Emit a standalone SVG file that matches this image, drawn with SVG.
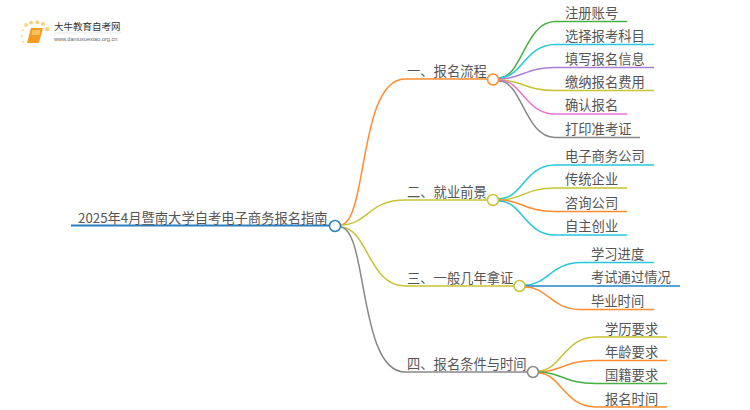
<svg xmlns="http://www.w3.org/2000/svg" width="750" height="410" viewBox="0 0 750 410">
<style>
.c{fill:none;stroke-width:1.500}
.r{stroke-width:2}
.t{font-family:"Noto Sans CJK SC","Noto Sans",sans-serif;font-size:13.300px;fill:#555}
.n{fill:#fff;stroke-width:1.500}
</style>
<rect width="750" height="410" fill="#fff"/>
<g id="logo">
<circle cx="22.700" cy="30" r="1.300" fill="#fbe3a8"/><circle cx="21.700" cy="36" r="1.300" fill="#fbe3a8"/><circle cx="23" cy="41.700" r="1.300" fill="#fbe3a8"/>
<circle cx="26" cy="25" r="2" fill="#fcd98a"/><circle cx="31" cy="22.700" r="2" fill="#fcd078"/><circle cx="37.300" cy="22.300" r="2" fill="#fcd078"/><circle cx="43" cy="24" r="2" fill="#fcd078"/><circle cx="47.300" cy="29" r="2.300" fill="#fcd078"/>
<path d="M31 28h12l-3.500 13-1 2h-11.500z" fill="#f59a23"/><path d="M32.500 30h8l-1 5h-8z" fill="#fbc25c"/>
<text x="54" y="30" font-family="'Noto Sans CJK SC',sans-serif" font-size="9.500" fill="#333">大牛教育自考网</text>
<path d="M54 33h68" stroke="#ddd" stroke-width=".7"/>
<text x="54" y="41" font-family="'Liberation Sans',sans-serif" font-size="5.600" fill="#666">www.daniuxuexiao.org.cn</text>
</g>
<g id="connectors">
<path class="c r" stroke="#2b7fc1" d="M71 225.500H329"/>
<path class="c" stroke="#ff8c2e" d="M340 225C368 225 358 79 405 79H487"/>
<path class="c" stroke="#c6c433" d="M340 225C368 225 368 200 405 200H487"/>
<path class="c" stroke="#c6c433" d="M340 227C368 227 368 286 405 286H514"/>
<path class="c" stroke="#888" d="M340 227C368 227 358 372 405 372H527"/>
<path class="c" stroke="#46b045" d="M499 78C522 78 525 21.500 555 21.500H627"/>
<path class="c" stroke="#25c8dc" d="M499 78C522 78 525 44.500 555 44.500H654"/>
<path class="c" stroke="#a97fd6" d="M499 79C522 79 525 67.500 555 67.500H654"/>
<path class="c" stroke="#c6c433" d="M499 80C522 80 525 90.500 555 90.500H654"/>
<path class="c" stroke="#ee74cf" d="M499 80C522 80 525 114 555 114H627"/>
<path class="c" stroke="#888" d="M499 81C522 81 525 137.500 555 137.500H640"/>
<path class="c" stroke="#25c8dc" d="M499 199C522 199 525 165 555 165H654"/>
<path class="c" stroke="#c6c433" d="M499 200C522 200 525 188 555 188H627"/>
<path class="c" stroke="#ff8c2e" d="M499 200C522 200 525 211.500 555 211.500H627"/>
<path class="c" stroke="#25c8dc" d="M499 201C522 201 525 235 555 235H627"/>
<path class="c" stroke="#25c8dc" d="M525 285C548 285 551 262.500 581 262.500H654"/>
<path class="c" stroke="#1a85c8" d="M525 286H680"/>
<path class="c" stroke="#ff8c2e" d="M525 287C548 287 551 309.500 581 309.500H654"/>
<path class="c" stroke="#c6c433" d="M538 371C561 371 564 337 596 337H667"/>
<path class="c" stroke="#ff8c2e" d="M538 372C561 372 564 360.500 596 360.500H667"/>
<path class="c" stroke="#46b045" d="M538 372C561 372 564 383.500 596 383.500H667"/>
<path class="c" stroke="#ff8c2e" d="M538 373C561 373 564 407 596 407H667"/>
</g>
<g id="root"><text class="t" x="78" y="223">2025年4月暨南大学自考电子商务报名指南</text><circle class="n" stroke="#2b7fc1" cx="335" cy="226" r="5.500"/></g>
<g id="b1"><text class="t" x="407" y="76">一、报名流程</text><circle class="n" stroke="#ff8c2e" cx="493" cy="79.500" r="5.500"/></g>
<g id="b2"><text class="t" x="407" y="197">二、就业前景</text><circle class="n" stroke="#c6c433" cx="493" cy="200" r="5.500"/></g>
<g id="b3"><text class="t" x="407" y="283">三、一般几年拿证</text><circle class="n" stroke="#c6c433" cx="519.500" cy="286" r="5.500"/></g>
<g id="b4"><text class="t" x="407" y="369">四、报名条件与时间</text><circle class="n" stroke="#888" cx="533" cy="372" r="5.500"/></g>
<g id="l1"><text class="t" x="565" y="18">注册账号</text></g>
<g id="l2"><text class="t" x="565" y="41">选择报考科目</text></g>
<g id="l3"><text class="t" x="565" y="64">填写报名信息</text></g>
<g id="l4"><text class="t" x="565" y="87">缴纳报名费用</text></g>
<g id="l5"><text class="t" x="565" y="110">确认报名</text></g>
<g id="l6"><text class="t" x="565" y="134">打印准考证</text></g>
<g id="l7"><text class="t" x="565" y="161">电子商务公司</text></g>
<g id="l8"><text class="t" x="565" y="184">传统企业</text></g>
<g id="l9"><text class="t" x="565" y="208">咨询公司</text></g>
<g id="l10"><text class="t" x="565" y="231">自主创业</text></g>
<g id="l11"><text class="t" x="591" y="259">学习进度</text></g>
<g id="l12"><text class="t" x="591" y="282">考试通过情况</text></g>
<g id="l13"><text class="t" x="591" y="306">毕业时间</text></g>
<g id="l14"><text class="t" x="605" y="334">学历要求</text></g>
<g id="l15"><text class="t" x="605" y="357">年龄要求</text></g>
<g id="l16"><text class="t" x="605" y="380">国籍要求</text></g>
<g id="l17"><text class="t" x="605" y="404">报名时间</text></g>
</svg>
